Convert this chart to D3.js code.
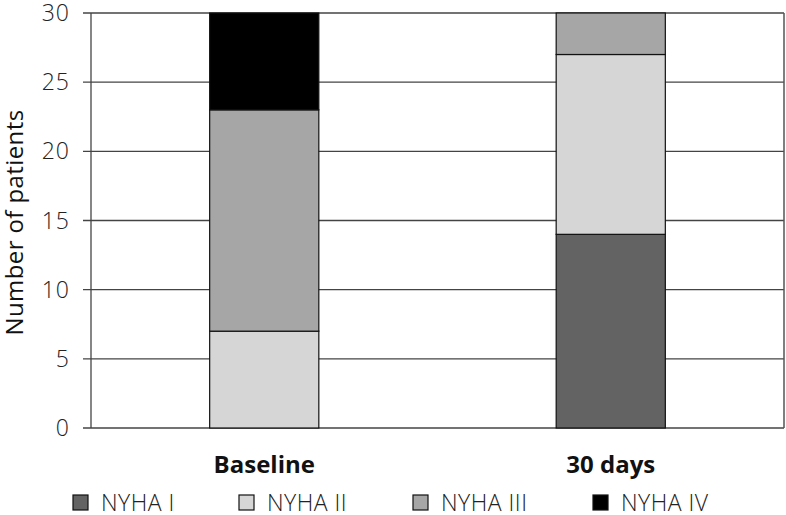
<!DOCTYPE html>
<html><head><meta charset="utf-8">
<script src="https://cdn.jsdelivr.net/npm/d3@7"></script>
<style>body{margin:0;background:#fff}svg{display:block}text{font-family:"Open Sans",sans-serif}</style>
</head><body><svg id="c" width="786" height="515"></svg>
<script>
const categories = ["Baseline", "30 days"];
const seriesNames = ["NYHA I", "NYHA II", "NYHA III", "NYHA IV"];
const nyhaI = [0, 14];
const nyhaII = [7, 13];
const nyhaIII = [16, 3];
const nyhaIV = [7, 0];
const yTicks = [0, 5, 10, 15, 20, 25, 30];
const colors = ["#636363", "#d6d6d6", "#a6a6a6", "#000000"];

const svg = d3.select("#c");
const m = {l: 91, r: 2, t: 13, b: 87};
const W = 786, H = 515;
const x = d3.scaleBand().domain(categories).range([m.l, W - m.r]).padding(0);
const y = d3.scaleLinear().domain([0, 30]).range([H - m.b, m.t]);

// gridlines
svg.append("g").selectAll("line").data(yTicks).join("line")
  .attr("x1", m.l - 8).attr("x2", W - m.r)
  .attr("y1", d => y(d)).attr("y2", d => y(d))
  .attr("stroke", "#444").attr("stroke-width", 1.3);
// axis line and right border
svg.append("line").attr("x1", m.l).attr("x2", m.l).attr("y1", y(30)).attr("y2", y(0)).attr("stroke", "#444").attr("stroke-width", 1.3);
svg.append("line").attr("x1", W - m.r).attr("x2", W - m.r).attr("y1", y(30)).attr("y2", y(0)).attr("stroke", "#555").attr("stroke-width", 1.5);

// tick labels
svg.append("g").selectAll("text").data(yTicks).join("text")
  .attr("x", m.l - 21).attr("y", d => y(d)).attr("dy", "0.35em")
  .attr("text-anchor", "end").attr("font-size", 23).attr("font-weight", 300).attr("fill", "#222")
  .attr("letter-spacing", 1)
  .text(d => d);

// stacked data
const rows = categories.map((c, i) => ({cat: c, "NYHA I": nyhaI[i], "NYHA II": nyhaII[i], "NYHA III": nyhaIII[i], "NYHA IV": nyhaIV[i]}));
const stack = d3.stack().keys(seriesNames)(rows);
const bw = x.bandwidth() * 0.315;
svg.append("g").selectAll("g").data(stack).join("g")
  .attr("fill", (d, i) => colors[i])
  .selectAll("rect").data(d => d.filter(s => s[1] - s[0] > 0)).join("rect")
  .attr("x", d => x(d.data.cat) + x.bandwidth() / 2 - bw / 2)
  .attr("width", bw)
  .attr("y", d => y(d[1])).attr("height", d => y(d[0]) - y(d[1]))
  .attr("stroke", "#111").attr("stroke-width", 1.2);

// x labels
svg.append("g").selectAll("text").data(categories).join("text")
  .attr("x", d => x(d) + x.bandwidth() / 2).attr("y", 473)
  .attr("text-anchor", "middle").attr("font-size", 24).attr("font-weight", 700).attr("fill", "#111")
  .text(d => d);

// y title
svg.append("text").attr("transform", `translate(23,${(y(0) + y(30)) / 2 + 2}) rotate(-90)`)
  .attr("text-anchor", "middle").attr("font-size", 24).attr("font-weight", 500).attr("fill", "#111")
  .attr("letter-spacing", 0.4)
  .text("Number of patients");

// legend
const legX = [73, 239, 413, 593];
const lg = svg.append("g").selectAll("g").data(seriesNames).join("g")
  .attr("transform", (d, i) => `translate(${legX[i]},495)`);
lg.append("rect").attr("x", 0).attr("y", 0).attr("width", 15).attr("height", 15)
  .attr("fill", (d, i) => colors[i]).attr("stroke", "#111").attr("stroke-width", 1.2);
lg.append("text").attr("x", 28).attr("y", 15.5)
  .attr("font-size", 23).attr("font-weight", 300).attr("fill", "#222")
  .attr("letter-spacing", 0.5).text(d => d);
</script></body></html>
